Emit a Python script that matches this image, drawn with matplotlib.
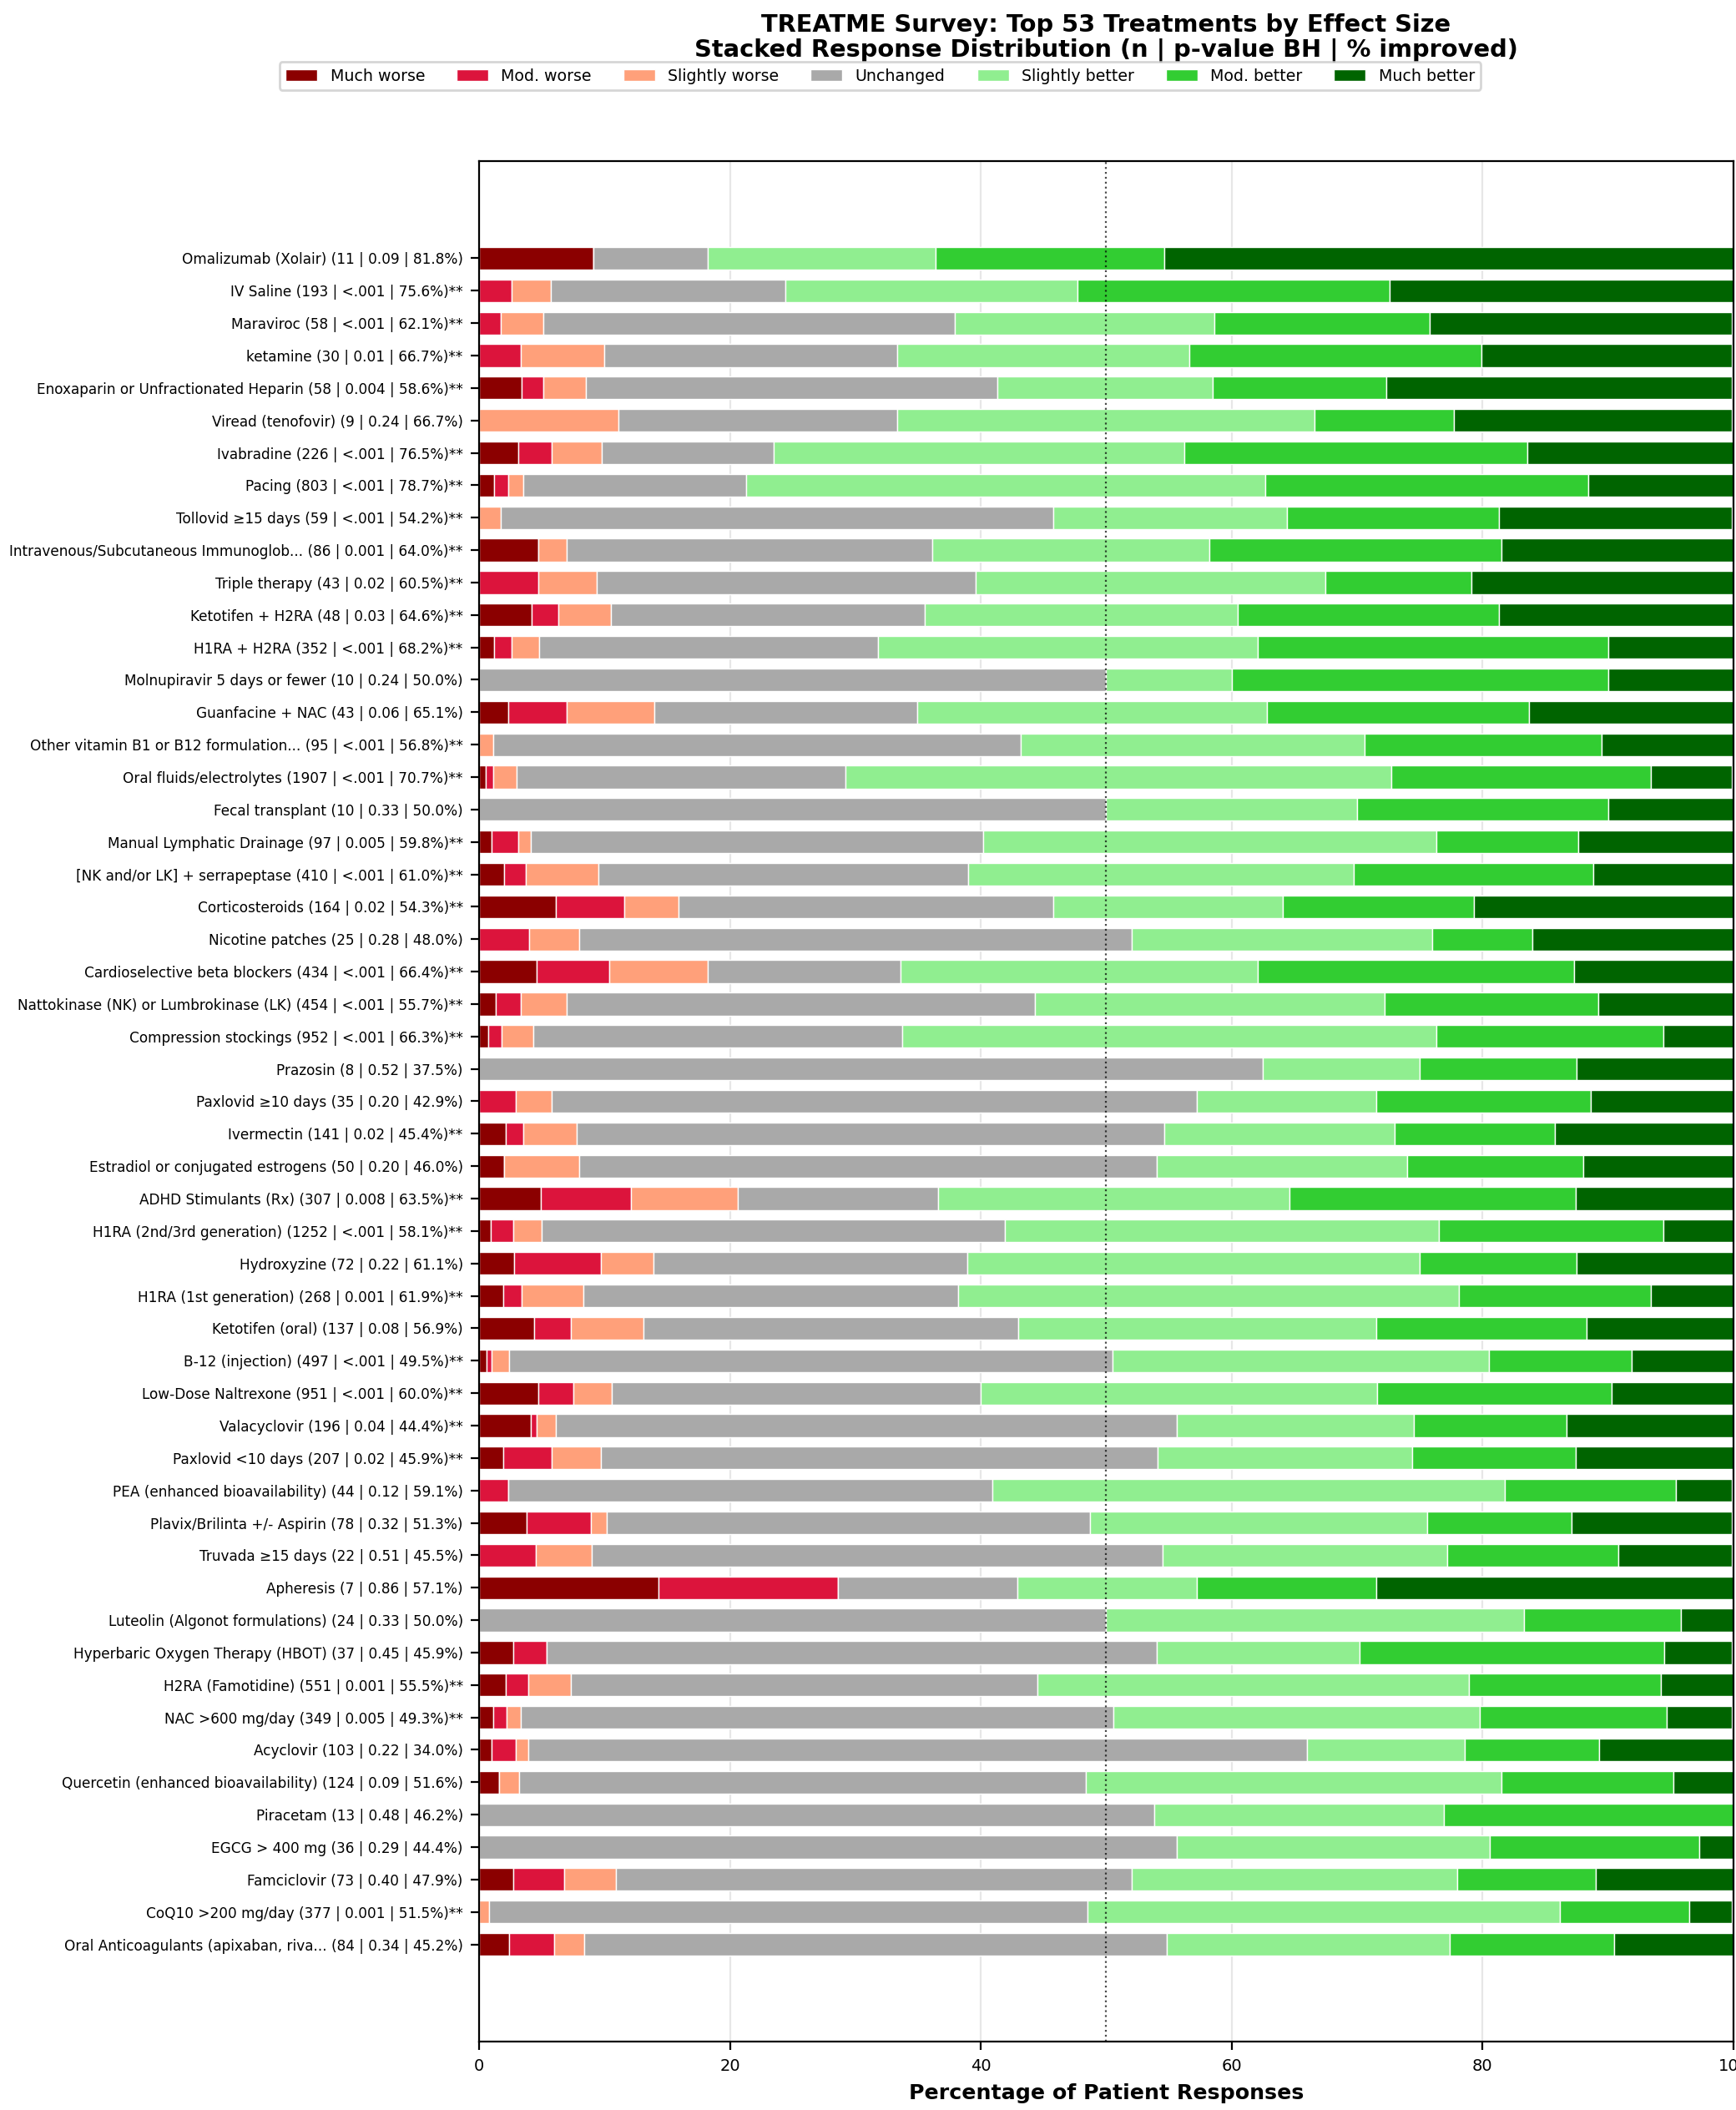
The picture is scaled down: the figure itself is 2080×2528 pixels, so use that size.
import numpy as np
import matplotlib
matplotlib.use("Agg")
from matplotlib import pyplot as plt

# Treatment labels (top to bottom)
labels = [
    "Omalizumab (Xolair) (11 | 0.09 | 81.8%)",
    "IV Saline (193 | <.001 | 75.6%)**",
    "Maraviroc (58 | <.001 | 62.1%)**",
    "ketamine (30 | 0.01 | 66.7%)**",
    "Enoxaparin or Unfractionated Heparin (58 | 0.004 | 58.6%)**",
    "Viread (tenofovir) (9 | 0.24 | 66.7%)",
    "Ivabradine (226 | <.001 | 76.5%)**",
    "Pacing (803 | <.001 | 78.7%)**",
    "Tollovid \u226515 days (59 | <.001 | 54.2%)**",
    "Intravenous/Subcutaneous Immunoglob... (86 | 0.001 | 64.0%)**",
    "Triple therapy (43 | 0.02 | 60.5%)**",
    "Ketotifen + H2RA (48 | 0.03 | 64.6%)**",
    "H1RA + H2RA (352 | <.001 | 68.2%)**",
    "Molnupiravir 5 days or fewer (10 | 0.24 | 50.0%)",
    "Guanfacine + NAC (43 | 0.06 | 65.1%)",
    "Other vitamin B1 or B12 formulation... (95 | <.001 | 56.8%)**",
    "Oral fluids/electrolytes (1907 | <.001 | 70.7%)**",
    "Fecal transplant (10 | 0.33 | 50.0%)",
    "Manual Lymphatic Drainage (97 | 0.005 | 59.8%)**",
    "[NK and/or LK] + serrapeptase (410 | <.001 | 61.0%)**",
    "Corticosteroids (164 | 0.02 | 54.3%)**",
    "Nicotine patches (25 | 0.28 | 48.0%)",
    "Cardioselective beta blockers (434 | <.001 | 66.4%)**",
    "Nattokinase (NK) or Lumbrokinase (LK) (454 | <.001 | 55.7%)**",
    "Compression stockings (952 | <.001 | 66.3%)**",
    "Prazosin (8 | 0.52 | 37.5%)",
    "Paxlovid \u226510 days (35 | 0.20 | 42.9%)",
    "Ivermectin (141 | 0.02 | 45.4%)**",
    "Estradiol or conjugated estrogens (50 | 0.20 | 46.0%)",
    "ADHD Stimulants (Rx) (307 | 0.008 | 63.5%)**",
    "H1RA (2nd/3rd generation) (1252 | <.001 | 58.1%)**",
    "Hydroxyzine (72 | 0.22 | 61.1%)",
    "H1RA (1st generation) (268 | 0.001 | 61.9%)**",
    "Ketotifen (oral) (137 | 0.08 | 56.9%)",
    "B-12 (injection) (497 | <.001 | 49.5%)**",
    "Low-Dose Naltrexone (951 | <.001 | 60.0%)**",
    "Valacyclovir (196 | 0.04 | 44.4%)**",
    "Paxlovid <10 days (207 | 0.02 | 45.9%)**",
    "PEA (enhanced bioavailability) (44 | 0.12 | 59.1%)",
    "Plavix/Brilinta +/- Aspirin (78 | 0.32 | 51.3%)",
    "Truvada \u226515 days (22 | 0.51 | 45.5%)",
    "Apheresis (7 | 0.86 | 57.1%)",
    "Luteolin (Algonot formulations) (24 | 0.33 | 50.0%)",
    "Hyperbaric Oxygen Therapy (HBOT) (37 | 0.45 | 45.9%)",
    "H2RA (Famotidine) (551 | 0.001 | 55.5%)**",
    "NAC >600 mg/day (349 | 0.005 | 49.3%)**",
    "Acyclovir (103 | 0.22 | 34.0%)",
    "Quercetin (enhanced bioavailability) (124 | 0.09 | 51.6%)",
    "Piracetam (13 | 0.48 | 46.2%)",
    "EGCG > 400 mg (36 | 0.29 | 44.4%)",
    "Famciclovir (73 | 0.40 | 47.9%)",
    "CoQ10 >200 mg/day (377 | 0.001 | 51.5%)**",
    "Oral Anticoagulants (apixaban, riva... (84 | 0.34 | 45.2%)",
]

# Percent of responses per category, same order as labels
much_worse = [9.1, 0, 0, 0, 3.4, 0, 3.1, 1.2, 0, 4.7, 0, 4.2, 1.2, 0, 2.3, 0, 0.5, 0,
              1.0, 2.0, 6.1, 0, 4.6, 1.3, 0.7, 0, 0, 2.1, 2.0, 4.9, 0.9, 2.8, 1.9, 4.4,
              0.6, 4.7, 4.1, 1.9, 0, 3.8, 0, 14.3, 0, 2.7, 2.1, 1.1, 1.0, 1.6, 0, 0,
              2.7, 0, 2.4]
mod_worse = [0, 2.6, 1.7, 3.3, 1.7, 0, 2.7, 1.1, 0, 0, 4.7, 2.1, 1.4, 0, 4.7, 0, 0.6, 0,
             2.1, 1.7, 5.5, 4.0, 5.8, 2.0, 1.1, 0, 2.9, 1.4, 0, 7.2, 1.8, 6.9, 1.5, 2.9,
             0.4, 2.8, 0.5, 3.9, 2.3, 5.1, 4.5, 14.3, 0, 2.7, 1.8, 1.1, 1.9, 0, 0, 0,
             4.1, 0, 3.6]
slightly_worse = [0, 3.1, 3.4, 6.7, 3.4, 11.1, 4.0, 1.2, 1.7, 2.3, 4.7, 4.2, 2.2, 0, 7.0,
                  1.1, 1.9, 0, 1.0, 5.8, 4.3, 4.0, 7.8, 3.7, 2.5, 0, 2.9, 4.3, 6.0, 8.5,
                  2.3, 4.2, 4.9, 5.8, 1.4, 3.1, 1.5, 3.9, 0, 1.3, 4.5, 0, 0, 0, 3.4, 1.1,
                  1.0, 1.6, 0, 0, 4.1, 0.8, 2.4]
unchanged = [9.1, 18.7, 32.8, 23.3, 32.8, 22.2, 13.7, 17.8, 44.1, 29.1, 30.2, 25.0, 27.0,
             50.0, 20.9, 42.1, 26.2, 50.0, 36.1, 29.5, 29.9, 44.0, 15.4, 37.3, 29.4, 62.5,
             51.4, 46.8, 46.0, 16.0, 36.9, 25.0, 29.9, 29.9, 48.1, 29.4, 49.5, 44.4, 38.6,
             38.5, 45.5, 14.3, 50.0, 48.6, 37.2, 47.3, 62.1, 45.2, 53.8, 55.6, 41.1, 47.7,
             46.4]
slightly_better = [18.2, 23.3, 20.7, 23.3, 17.2, 33.3, 32.7, 41.4, 18.6, 22.1, 27.9, 25.0,
                   30.3, 10.0, 27.9, 27.4, 43.5, 20.0, 36.1, 30.7, 18.3, 24.0, 28.5, 27.9,
                   42.6, 12.5, 14.3, 18.4, 20.0, 28.0, 34.6, 36.1, 39.9, 28.5, 30.0, 31.6,
                   18.9, 20.3, 40.9, 26.9, 22.7, 14.3, 33.3, 16.2, 34.4, 29.2, 12.6, 33.1,
                   23.1, 25.0, 26.0, 37.7, 22.6]
mod_better = [18.2, 24.9, 17.2, 23.3, 13.8, 11.1, 27.4, 25.7, 16.9, 23.3, 11.6, 20.8, 27.9,
              30.0, 20.9, 18.9, 20.7, 20.0, 11.3, 19.1, 15.2, 8.0, 25.2, 17.0, 18.1, 12.5,
              17.1, 12.8, 14.0, 22.8, 17.9, 12.5, 15.3, 16.8, 11.4, 18.7, 12.2, 13.0, 13.6,
              11.5, 13.6, 14.3, 12.5, 24.3, 15.3, 14.9, 10.7, 13.7, 23.1, 16.7, 11.0, 10.3,
              13.1]
much_better = [45.5, 27.5, 24.1, 20.0, 27.6, 22.2, 16.4, 11.6, 18.6, 18.6, 20.9, 18.8, 10.0,
               10.0, 16.3, 10.5, 6.5, 10.0, 12.4, 11.2, 20.7, 16.0, 12.7, 10.8, 5.6, 12.5,
               11.4, 14.2, 12.0, 12.7, 5.6, 12.5, 6.7, 11.7, 8.1, 9.7, 13.3, 12.6, 4.5,
               12.8, 9.1, 28.6, 4.2, 5.4, 5.8, 5.2, 10.7, 4.8, 0, 2.8, 11.0, 3.4, 9.5]

categories = ["Much worse", "Mod. worse", "Slightly worse", "Unchanged",
              "Slightly better", "Mod. better", "Much better"]
colors = ["#8B0000", "#DC143C", "#FFA07A", "#A9A9A9", "#90EE90", "#32CD32", "#006400"]
series = [much_worse, mod_worse, slightly_worse, unchanged,
          slightly_better, mod_better, much_better]

fig, ax = plt.subplots(figsize=(10.4, 12.64), dpi=200)
fig.subplots_adjust(left=0.276, right=0.9985, top=0.9237, bottom=0.0324)

y = np.arange(len(labels))
left = np.zeros(len(labels))
handles = []
for cat, col, vals in zip(categories, colors, series):
    vals = np.array(vals, dtype=float)
    b = ax.barh(y, vals, left=left, height=0.7, color=col,
                edgecolor="white", linewidth=0.5, label=cat)
    handles.append(b)
    left += vals

ax.axvline(50, color="black", linestyle=":", linewidth=0.8, alpha=0.7)
ax.set_yticks(y)
ax.set_yticklabels(labels, fontsize=6.1)
ax.set_ylim(len(labels) + 2, -3)
ax.set_xlim(0, 100)
ax.tick_params(axis="x", labelsize=7)
ax.set_xlabel("Percentage of Patient Responses", fontsize=9.1, fontweight="bold")
ax.grid(axis="x", alpha=0.3)
ax.set_axisbelow(True)

ax.set_title("TREATME Survey: Top 53 Treatments by Effect Size\n"
             "Stacked Response Distribution (n | p-value BH | % improved)",
             fontsize=10.4, fontweight="bold", pad=45, linespacing=1.1)

fig.legend(handles=handles, loc="upper center", bbox_to_anchor=(0.507, 0.9745),
           ncol=7, fontsize=6.85)

plt.savefig("out.png", dpi=200)
